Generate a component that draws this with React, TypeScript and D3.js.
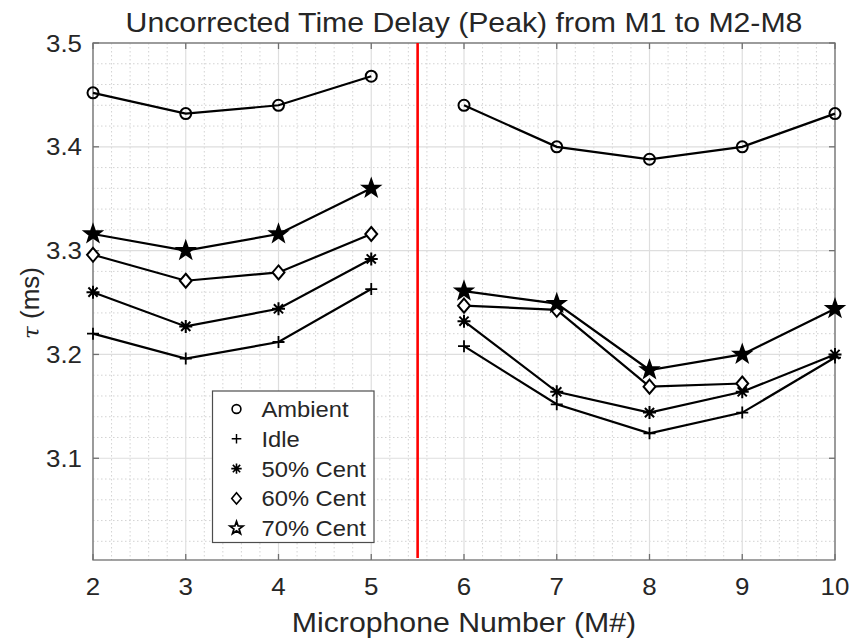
import React from "react";
import * as d3 from "d3";

// Microphone index on the x axis
const MICS = [2, 3, 4, 5, 6, 7, 8, 9, 10];

// Peak time delay τ (ms) for each operating condition
const AMBIENT = [3.452, 3.432, 3.44, 3.468, 3.44, 3.4, 3.388, 3.4, 3.432];
const IDLE = [3.22, 3.196, 3.212, 3.263, 3.208, 3.152, 3.124, 3.144, 3.197];
const CENT50 = [3.26, 3.227, 3.244, 3.292, 3.232, 3.164, 3.144, 3.164, 3.2];
const CENT60: (number | null)[] = [3.296, 3.271, 3.279, 3.316, 3.247, 3.243, 3.169, 3.172, null];
const CENT70 = [3.316, 3.3, 3.316, 3.36, 3.261, 3.249, 3.185, 3.2, 3.244];

const SERIES_NAMES = ["Ambient", "Idle", "50% Cent", "60% Cent", "70% Cent"];
const SERIES_MARKERS = ["circle", "plus", "asterisk", "diamond", "star"];

// Divider between the two microphone groups
const DIVIDER_X = 5.5;
const DIVIDER_Y = [3.004, 3.5];

const X_TICKS = [2, 3, 4, 5, 6, 7, 8, 9, 10];
const Y_TICKS = [3.1, 3.2, 3.3, 3.4, 3.5];
const X_DOMAIN = [2, 10];
const Y_DOMAIN = [3.002, 3.5];

const TITLE = "Uncorrected Time Delay (Peak) from M1 to M2-M8";
const X_LABEL = "Microphone Number (M#)";

const W = 852;
const H = 638;
const M = { left: 93, right: 835, top: 43, bottom: 560 };
const FONT = "'Liberation Sans', Arial, Helvetica, sans-serif";
const TEXT = "#262626";
const SX = 1.08;

function Marker({ kind, x, y, s = 1 }: { kind: string; x: number; y: number; s?: number }) {
  const common = { stroke: "#000", strokeWidth: 2 * s, fill: "none" };
  if (kind === "circle") return <circle cx={x} cy={y} r={5.5 * s} {...common} />;
  if (kind === "plus") {
    const r = 6 * s;
    return <path d={`M${x - r},${y}H${x + r}M${x},${y - r}V${y + r}`} {...common} strokeWidth={1.8 * s} />;
  }
  if (kind === "asterisk") {
    const r = 6.5 * s;
    const d = d3.range(4).map((i) => {
      const a = (i * Math.PI) / 4;
      return `M${x - r * Math.cos(a)},${y - r * Math.sin(a)}L${x + r * Math.cos(a)},${y + r * Math.sin(a)}`;
    }).join("");
    return <path d={d} {...common} strokeWidth={2 * s} />;
  }
  if (kind === "diamond") {
    const r = 7 * s;
    return <path d={`M${x},${y - r}L${x + r * 0.85},${y}L${x},${y + r}L${x - r * 0.85},${y}Z`} {...common} fill="#fff" />;
  }
  // pentagram
  const ro = 8.5 * s, ri = 3.4 * s;
  const pts = d3.range(10).map((i) => {
    const a = -Math.PI / 2 + (i * Math.PI) / 5;
    const r = i % 2 === 0 ? ro : ri;
    return [x + r * Math.cos(a), y + r * Math.sin(a)];
  });
  return (
    <path
      d={"M" + pts.map((p) => p.join(",")).join("L") + "Z"}
      {...common}
      strokeWidth={2.2 * s}
      fill={s >= 1 ? "#000" : "none"}
      strokeLinejoin="miter"
    />
  );
}

function SText({ x, y, size, anchor = "start", children, italic = false }: any) {
  return (
    <text
      transform={`translate(${x},${y}) scale(${SX},1)`}
      fontSize={size}
      fontFamily={FONT}
      fill={TEXT}
      textAnchor={anchor}
      fontStyle={italic ? "italic" : "normal"}
    >
      {children}
    </text>
  );
}

export default function App() {
  const x = d3.scaleLinear().domain(X_DOMAIN).range([M.left, M.right]);
  const y = d3.scaleLinear().domain(Y_DOMAIN).range([M.bottom, M.top]);

  const allSeries = [AMBIENT, IDLE, CENT50, CENT60, CENT70];

  const minorX = d3.range(2, 10.0001, 0.2).filter((v) => Math.abs(v - Math.round(v)) > 1e-6);
  const minorY = d3.range(3.02, 3.5, 0.02).filter((v) => Math.abs(v * 10 - Math.round(v * 10)) > 1e-6 && v > Y_DOMAIN[0]);

  const line = d3
    .line<[number, number | null]>()
    .defined((d) => d[1] !== null)
    .x((d) => x(d[0]))
    .y((d) => y(d[1] as number));

  const tick = 6;

  return (
    <svg width={W} height={H} style={{ position: "absolute", left: 0, top: 0, background: "#fff" }}>
      <rect x={0} y={0} width={W} height={H} fill="#fff" />
      {/* minor grid */}
      <g stroke="#c8c8c8" strokeWidth={0.8} strokeDasharray="1.5,2.5">
        {minorX.map((v) => (
          <line key={"mx" + v} x1={x(v)} x2={x(v)} y1={M.top} y2={M.bottom} />
        ))}
        {minorY.map((v) => (
          <line key={"my" + v} x1={M.left} x2={M.right} y1={y(v)} y2={y(v)} />
        ))}
      </g>
      {/* major grid */}
      <g stroke="#dedede" strokeWidth={1.2}>
        {X_TICKS.map((v) => (
          <line key={"gx" + v} x1={x(v)} x2={x(v)} y1={M.top} y2={M.bottom} />
        ))}
        {Y_TICKS.map((v) => (
          <line key={"gy" + v} x1={M.left} x2={M.right} y1={y(v)} y2={y(v)} />
        ))}
      </g>
      {/* axes box and inward ticks */}
      <g stroke="#707070" strokeWidth={1.3} fill="none">
        <rect x={M.left} y={M.top} width={M.right - M.left} height={M.bottom - M.top} />
        {X_TICKS.map((v) => (
          <g key={"tx" + v}>
            <line x1={x(v)} x2={x(v)} y1={M.bottom} y2={M.bottom - tick} />
            <line x1={x(v)} x2={x(v)} y1={M.top} y2={M.top + tick} />
          </g>
        ))}
        {Y_TICKS.map((v) => (
          <g key={"ty" + v}>
            <line x1={M.left} x2={M.left + tick} y1={y(v)} y2={y(v)} />
            <line x1={M.right} x2={M.right - tick} y1={y(v)} y2={y(v)} />
          </g>
        ))}
      </g>
      {/* divider */}
      <line
        x1={x(DIVIDER_X)}
        x2={x(DIVIDER_X)}
        y1={y(DIVIDER_Y[1])}
        y2={y(DIVIDER_Y[0])}
        stroke="#ff0000"
        strokeWidth={2.6}
      />
      {/* series */}
      {allSeries.map((vals, si) => {
        const pts = MICS.map((m, i) => [m, vals[i]] as [number, number | null]);
        const left = pts.filter((p) => p[0] < DIVIDER_X);
        const right = pts.filter((p) => p[0] > DIVIDER_X);
        return (
          <g key={"s" + si}>
            <path d={line(left) || ""} fill="none" stroke="#000" strokeWidth={2.2} />
            <path d={line(right) || ""} fill="none" stroke="#000" strokeWidth={2.2} />
            {pts
              .filter((p) => p[1] !== null)
              .map((p) => (
                <Marker key={p[0]} kind={SERIES_MARKERS[si]} x={x(p[0])} y={y(p[1] as number)} />
              ))}
          </g>
        );
      })}
      {/* tick labels */}
      {X_TICKS.map((v) => (
        <SText key={"lx" + v} x={x(v)} y={595} size={24} anchor="middle">
          {v}
        </SText>
      ))}
      {Y_TICKS.map((v) => (
        <SText key={"ly" + v} x={82} y={y(v) + 8.5} size={24} anchor="end">
          {v.toFixed(1)}
        </SText>
      ))}
      {/* title and axis labels */}
      <SText x={(M.left + M.right) / 2} y={32} size={28} anchor="middle">
        {TITLE}
      </SText>
      <SText x={(M.left + M.right) / 2} y={632} size={28} anchor="middle">
        {X_LABEL}
      </SText>
      <text
        transform={`translate(39,${303}) rotate(-90)`}
        fontSize={26}
        fontFamily={FONT}
        fill={TEXT}
        textAnchor="middle"
      >
        <tspan fontStyle="italic" fontFamily="'DejaVu Serif', serif" fontSize={23}>τ</tspan>
        <tspan> (ms)</tspan>
      </text>
      {/* legend */}
      <g>
        <rect x={212.5} y={391} width={161.5} height={151.5} fill="#fff" stroke="#4d4d4d" strokeWidth={1.2} />
        {SERIES_NAMES.map((name, i) => {
          const cy = 409 + i * 29.8;
          return (
            <g key={name}>
              <Marker kind={SERIES_MARKERS[i]} x={236.5} y={cy} s={0.8} />
              <SText x={261.5} y={cy + 8} size={22}>
                {name}
              </SText>
            </g>
          );
        })}
      </g>
    </svg>
  );
}
